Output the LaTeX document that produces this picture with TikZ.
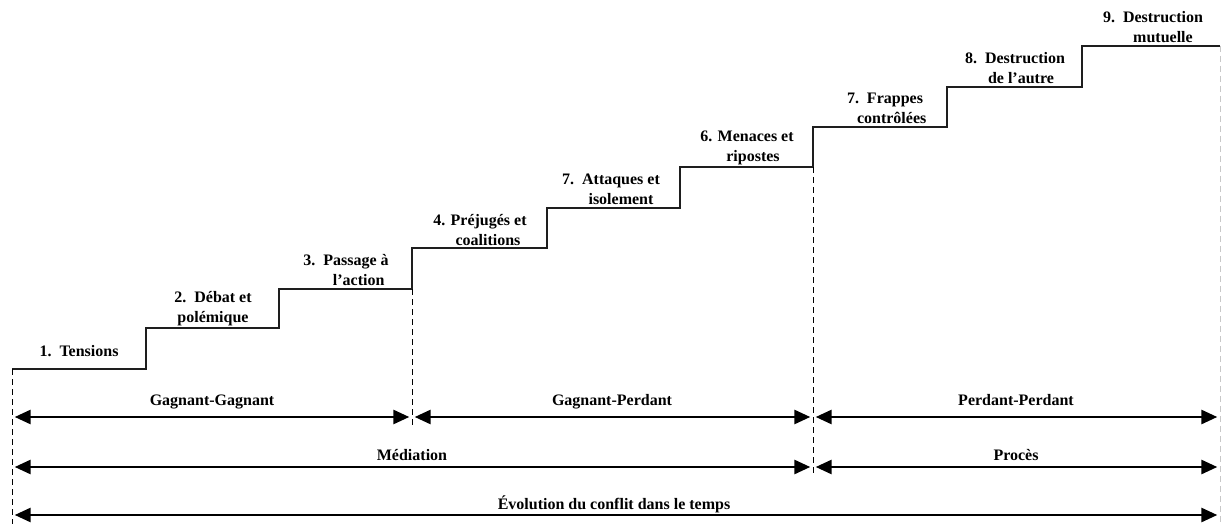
\documentclass[tikz,border=0pt]{standalone}
\usepackage{fontspec}
\setmainfont{Liberation Serif}
\usetikzlibrary{arrows.meta}

\tikzset{
  stairlbl/.style={font=\fontsize{12}{15}\selectfont\bfseries, align=center, inner sep=0pt},
  spanlbl/.style={font=\fontsize{12}{15}\selectfont\bfseries, inner sep=0pt, anchor=base},
  spanarrow/.style={line width=2pt, {Triangle[length=12pt,width=10.5pt]}-{Triangle[length=12pt,width=10.5pt]}, shorten <=2pt, shorten >=2pt},
  guide/.style={line width=0.75pt, dash pattern=on 4.5pt off 3pt},
}

\begin{document}
\begin{tikzpicture}[x=0.75pt,y=0.75pt,yscale=-1,xscale=1]
\useasboundingbox (0,0) rectangle (1221,524);

%Stairs
\coordinate (l1) at (12,369);
\coordinate (l2) at (146,328);
\coordinate (l3) at (279,289);
\coordinate (l4) at (412,248);
\coordinate (l5) at (547,208);
\coordinate (l6) at (680,167);
\coordinate (l7) at (813,127);
\coordinate (l8) at (947,87);
\coordinate (l9) at (1082,46);
\coordinate (lend) at (1220,46);
\draw [line width=1.3pt, color={rgb, 255:red, 30; green, 30; blue, 30 }] (l1) -| (l2) -| (l3) -| (l4) -| (l5) -| (l6) -| (l7) -| (l8) -| (l9) -- (lend) ;

%Stair labels
\node [stairlbl, anchor=base] (t1) at (79,356) {1.\ \ Tensions};
\node [stairlbl] (t2) at (213,309) {2.\ \ Débat et\\polémique};
\node [stairlbl] (t3) at (346,270) {3.\ \ Passage à\\\hspace*{19pt}l’action};
\node [stairlbl] (t4) at (480,230) {4. Préjugés et\\\hspace*{12pt}coalitions};
\node [stairlbl] (t5) at (611,189) {7.\ \ Attaques et\\\hspace*{15pt}isolement};
\node [stairlbl] (t6) at (747,148) {6. Menaces et\\\hspace*{9pt}ripostes};
\node [stairlbl] (t7) at (885,108) {7.\ \ Frappes\\\hspace*{10pt}contrôlées};
\node [stairlbl] (t8) at (1015,68) {8.\ \ Destruction\\\hspace*{9pt}de l’autre};
\node [stairlbl] (t9) at (1153,27) {9.\ \ Destruction\\\hspace*{15pt}mutuelle};

%Guides
\coordinate (d1) at (12,524);
\coordinate (d2) at (412,425);
\coordinate (d3) at (813,477);
\coordinate (d4) at (1220,524);
\draw [guide] (l1) -- (d1) ;
\draw [guide] (l4 |- l3) -- (d2) ;
\draw [guide] (l7 |- l6) -- (d3) ;
\draw [guide, color={rgb, 255:red, 200; green, 200; blue, 200 }] (lend) -- (d4) ;

%Outcome arrows
\coordinate (a0) at (12,417);
\coordinate (a1) at (412,417);
\coordinate (a2) at (813,417);
\coordinate (a3) at (1220,417);
\draw [spanarrow] (a0) -- (a1) ;
\draw [spanarrow] (a1) -- (a2) ;
\draw [spanarrow] (a2) -- (a3) ;
\node [spanlbl] (gg) at (212,405) {Gagnant-Gagnant};
\node [spanlbl] (gp) at (612,405) {Gagnant-Perdant};
\node [spanlbl] (pp) at (1016,405) {Perdant-Perdant};

%Resolution arrows
\coordinate (b0) at (12,467);
\coordinate (b1) at (813,467);
\coordinate (b2) at (1220,467);
\draw [spanarrow] (b0) -- (b1) ;
\draw [spanarrow] (b1) -- (b2) ;
\node [spanlbl] (med) at (412,460) {Médiation};
\node [spanlbl] (pro) at (1016,460) {Procès};

%Time arrow
\coordinate (c0) at (12,515);
\coordinate (c1) at (1220,515);
\draw [spanarrow] (c0) -- (c1) ;
\node [spanlbl] (evo) at (614,509) {Évolution du conflit dans le temps};
\end{tikzpicture}
\end{document}
